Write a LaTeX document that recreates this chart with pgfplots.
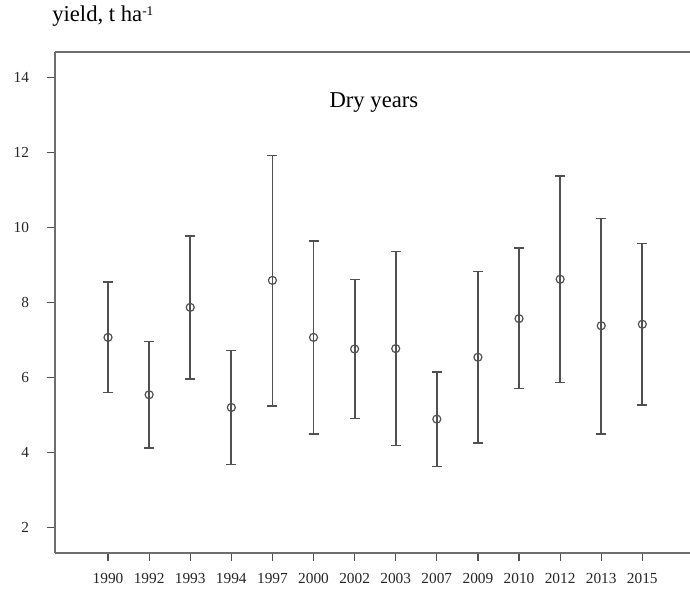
\documentclass[border=0pt]{standalone}
\usepackage{pgfplots}
\pgfplotsset{compat=1.18}
\usepackage{pgfplotstable}
\usepackage{fontspec}
\setmainfont{Liberation Serif}
\definecolor{axgray}{RGB}{110,110,110}
\definecolor{bargray}{RGB}{80,80,80}

\pgfplotstableread{
x y ep em
0 7.08 1.47 1.47
1 5.55 1.42 1.42
2 7.88 1.91 1.91
3 5.21 1.52 1.52
4 8.60 3.33 3.35
5 7.08 2.57 2.57
6 6.77 1.85 1.85
7 6.78 2.59 2.58
8 4.90 1.25 1.26
9 6.55 2.29 2.28
10 7.58 1.88 1.86
11 8.63 2.76 2.75
12 7.39 2.86 2.89
13 7.43 2.15 2.15
}\dry

\begin{document}
\begin{tikzpicture}
\begin{axis}[
  scale only axis,
  width=476.25pt, height=375.75pt,
  xmin=-1.29, xmax=14.16,
  ymin=1.33, ymax=14.69,
  axis x line=bottom, axis y line=left,
  axis line style={-, draw=axgray, line width=1.1pt},
  tick align=outside,
  major tick length=6pt,
  tick style={draw=bargray, line width=0.9pt},
  xtick={0,...,13},
  xticklabels={1990,1992,1993,1994,1997,2000,2002,2003,2007,2009,2010,2012,2013,2015},
  ytick={2,4,...,14},
  /pgf/number format/assume math mode=true,
  ticklabel style={font=\fontsize{11.5}{13}\selectfont, text=black!85},
  xticklabel style={yshift=-6pt},
  yticklabel style={xshift=-10pt},
  clip=false,
]
\addplot[only marks, mark=o, mark size=3pt, draw=bargray, line width=0.9pt,
  error bars/.cd, y dir=both, y explicit,
  error bar style={draw=bargray, line width=1.35pt},
  error mark=-,
  error mark options={draw=bargray, line width=1.2pt, mark size=3.75pt, rotate=90}]
  table[x=x, y=y, y error plus=ep, y error minus=em]{\dry};
\draw[axgray, line width=1.1pt] (rel axis cs:0,1) -- (rel axis cs:1,1);
\node[anchor=base, font=\fontsize{17}{20}\selectfont] at (axis cs:6.47,13.2) {Dry years};
\coordinate (bl) at (rel axis cs:0,0);
\coordinate (tr) at (rel axis cs:1,1);
\coordinate (tl) at (rel axis cs:0,1);
\end{axis}
\node[anchor=base west, font=\fontsize{17}{20}\selectfont, inner sep=0pt] at ([xshift=-2.25pt,yshift=22.5pt]tl) {yield, t ha{\fontsize{10}{12}\selectfont\raisebox{4.5pt}{-1}}};
\pgfresetboundingbox
\path ([xshift=-41.25pt,yshift=-27.75pt]bl) rectangle ([yshift=39pt]tr);
\end{tikzpicture}
\end{document}
